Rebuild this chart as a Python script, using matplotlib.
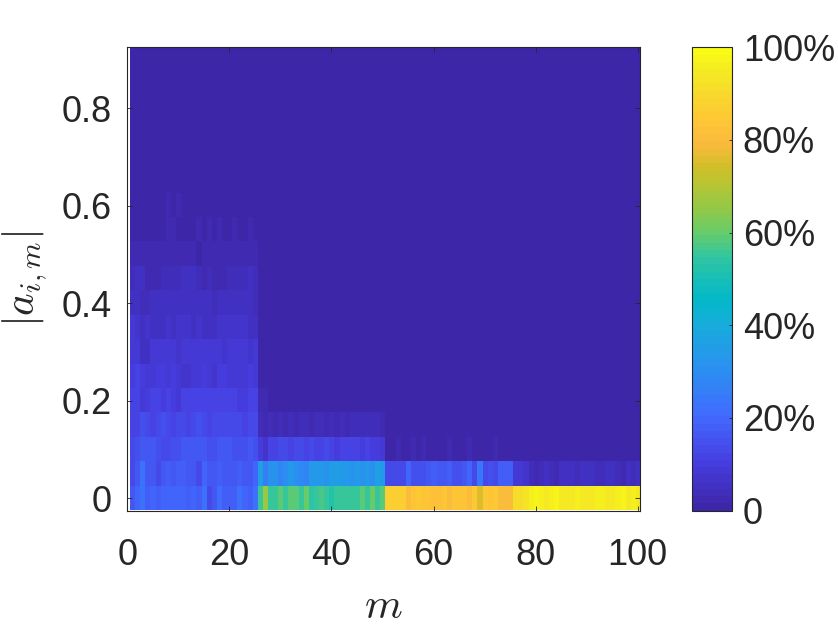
import numpy as np
import matplotlib
matplotlib.use("Agg")
import matplotlib.pyplot as plt
from matplotlib.colors import LinearSegmentedColormap, ListedColormap

# histogram of |a_{i,m}| per column m, in percent
m_values = np.arange(1, 101)
amp_bins = np.round(np.arange(19) * 0.05, 2)

row_000 = ([17, 19, 23, 18, 19, 18, 20, 19, 20, 20, 19, 18, 19, 18, 23, 13, 17, 21, 18, 18, 18, 22, 19, 18, 22]
           + [56, 67, 55, 56, 58, 55, 59, 58, 55, 60, 54, 56, 57, 55, 52, 56, 55, 55, 56, 55, 59, 55, 60, 55, 58]
           + [86, 87, 86, 86, 80, 84, 85, 84, 83, 82, 82, 83, 81, 84, 84, 84, 80, 85, 75, 85, 84, 85, 81, 81, 81]
           + [91, 92, 93, 96, 97, 96, 95, 96, 97, 95, 94, 95, 96, 95, 94, 95, 96, 96, 95, 94, 96, 97, 95, 96, 94])
row_005 = ([13, 16, 22, 16, 17, 14, 16, 18, 17, 18, 18, 17, 16, 13, 19, 17, 17, 18, 17, 17, 17, 18, 17, 17, 19]
           + [37, 26, 32, 32, 28, 31, 33, 30, 29, 28, 33, 33, 33, 32, 35, 35, 33, 33, 32, 34, 32, 33, 30, 36, 34]
           + [13, 13, 14, 14, 19, 15, 15, 15, 16, 18, 17, 16, 18, 15, 15, 16, 19, 14, 24, 14, 15, 14, 18, 18, 18]
           + [9, 8, 7, 4, 3, 4, 5, 4, 3, 5, 6, 5, 4, 5, 6, 5, 4, 4, 5, 6, 4, 3, 5, 4, 6])
row_010 = ([14, 15, 17, 16, 16, 15, 14, 14, 15, 15, 16, 16, 16, 16, 16, 15, 15, 17, 17, 17, 15, 15, 15, 16, 15]
           + [10, 7, 12, 12, 13, 14, 11, 13, 14, 12, 13, 12, 11, 14, 11, 10, 12, 11, 12, 11, 10, 12, 10, 10, 9]
           + [1, 1, 2, 1, 1, 2, 1, 2, 1, 1, 1, 1, 2, 1, 1, 1, 2, 1, 1, 1, 1, 2, 1, 1, 1]
           + [0] * 25)
row_015 = ([12, 12, 15, 14, 12, 13, 15, 14, 12, 13, 14, 12, 13, 15, 13, 12, 14, 14, 14, 14, 13, 13, 12, 13, 14]
           + [4, 2, 4, 3, 4, 3, 4, 3, 4, 4, 3, 4, 4, 3, 4, 3, 4, 3, 4, 4, 4, 4, 4, 4, 3]
           + [0] * 50)
row_020 = ([11, 11, 9, 10, 12, 11, 10, 11, 10, 9, 11, 11, 11, 11, 11, 11, 11, 11, 12, 12, 11, 10, 10, 11, 11]
           + [2, 2] + [0] * 73)
row_025 = [10, 11, 10, 9, 9, 10, 10, 9, 10, 9, 7, 7, 9, 9, 10, 9, 7, 10, 10, 9, 8, 9, 9, 10, 9] + [0] * 75
row_030 = [9, 8, 6, 6, 8, 9, 9, 8, 8, 7, 9, 8, 8, 8, 9, 8, 8, 8, 7, 9, 8, 9, 8, 7, 9] + [0] * 75
row_035 = [8, 7, 5, 7, 6, 6, 6, 7, 6, 7, 7, 7, 6, 7, 5, 5, 6, 7, 7, 7, 7, 7, 7, 6, 5] + [0] * 75
row_040 = [6, 6, 4, 4, 5, 6, 6, 5, 6, 6, 6, 6, 5, 6, 5, 6, 4, 6, 5, 6, 5, 5, 5, 5, 4] + [0] * 75
row_045 = [4, 5, 5, 3, 3, 3, 4, 4, 4, 4, 5, 5, 5, 4, 3, 4, 3, 3, 3, 4, 4, 4, 4, 5, 4] + [0] * 75
row_050 = [3, 3, 3, 2, 3, 2, 3, 3, 3, 3, 3, 3, 3, 1, 2, 3, 2, 3, 3, 2, 2, 2, 3, 2, 2] + [0] * 75
row_055 = [1, 0, 0, 0, 0, 0, 0, 2, 2, 0, 0, 0, 0, 2, 0, 2, 0, 2, 0, 0, 2, 0, 0, 2, 0] + [0] * 75
row_060 = [1, 0, 0, 0, 0, 0, 0, 2, 0, 2, 0, 0, 0, 0, 0, 0, 0, 0, 0, 0, 0, 0, 0, 0, 0] + [0] * 75
row_065 = [0] * 100
row_070 = [0] * 100
row_075 = [0] * 100
row_080 = [0] * 100
row_085 = [0] * 100
row_090 = [0] * 100

hist_pct = np.array([row_000, row_005, row_010, row_015, row_020, row_025, row_030,
                     row_035, row_040, row_045, row_050, row_055, row_060, row_065,
                     row_070, row_075, row_080, row_085, row_090], dtype=float)

x_ticks = [0, 20, 40, 60, 80, 100]
y_ticks = [0, 0.2, 0.4, 0.6, 0.8]
y_ticklabels = ['0', '0.2', '0.4', '0.6', '0.8']
cbar_ticks = [0, 20, 40, 60, 80, 100]
cbar_ticklabels = ['0', '20%', '40%', '60%', '80%', '100%']

# parula-like map, 64 levels like matlab's default
parula_pts = [
    (0.00, (0.2422, 0.1504, 0.6603)),
    (0.10, (0.2770, 0.2440, 0.8840)),
    (0.20, (0.2550, 0.4200, 0.9970)),
    (0.30, (0.1700, 0.5600, 0.9450)),
    (0.40, (0.0900, 0.6750, 0.8600)),
    (0.45, (0.0100, 0.7220, 0.7900)),
    (0.50, (0.0900, 0.7490, 0.7160)),
    (0.55, (0.1900, 0.7750, 0.6300)),
    (0.60, (0.4000, 0.8000, 0.4200)),
    (0.65, (0.5600, 0.7900, 0.2900)),
    (0.70, (0.7000, 0.7750, 0.2100)),
    (0.75, (0.8300, 0.7470, 0.1530)),
    (0.80, (0.9800, 0.7300, 0.2400)),
    (0.85, (0.9950, 0.7800, 0.2100)),
    (0.90, (0.9750, 0.8400, 0.1760)),
    (0.95, (0.9600, 0.9100, 0.1430)),
    (1.00, (0.9769, 0.9839, 0.0805)),
]
smooth = LinearSegmentedColormap.from_list('parula_s', parula_pts)
parula = ListedColormap(smooth(np.linspace(0, 1, 64)), name='parula')

txt = '#262626'
plt.rcParams['font.family'] = ['Liberation Sans', 'DejaVu Sans']
plt.rcParams['mathtext.fontset'] = 'cm'

W, H = 838, 628
fig = plt.figure(figsize=(W / 100, H / 100), dpi=100)
ax = fig.add_axes([127.3 / W, 1 - 510.5 / H, (640.3 - 127.3) / W, (510.5 - 47.3) / H])
cax = fig.add_axes([692.3 / W, 1 - 510.5 / H, (731.7 - 692.3) / W, (510.5 - 47.3) / H])

dm = m_values[1] - m_values[0]
da = amp_bins[1] - amp_bins[0]
im = ax.imshow(hist_pct, origin='lower', aspect='auto', cmap=parula, vmin=0, vmax=100,
               interpolation='nearest',
               extent=[m_values[0] - dm / 2, m_values[-1] + dm / 2,
                       amp_bins[0] - da / 2, amp_bins[-1] + da / 2])

ax.set_xticks(x_ticks)
ax.set_yticks(y_ticks)
ax.set_yticklabels(y_ticklabels)
ax.tick_params(direction='in', length=3.6, width=0.6, top=True, right=True,
               labelsize=26, colors=txt)
ax.tick_params(axis='x', pad=20)
ax.tick_params(axis='y', pad=11)
for s in ax.spines.values():
    s.set_color(txt)
    s.set_linewidth(0.8)

ax.set_xlabel(r'$m$', fontsize=31, color=txt)
ax.set_ylabel(r'$|a_{i,m}|$', fontsize=31, color=txt)
ax.xaxis.set_label_coords(0.5, -0.165)
ax.yaxis.set_label_coords(-0.152, 0.5)

cb = fig.colorbar(im, cax=cax, ticks=cbar_ticks)
cb.ax.set_yticklabels(cbar_ticklabels)
cb.ax.tick_params(direction='in', length=2.5, width=0.6, labelsize=26, colors=txt, pad=8)
cb.outline.set_edgecolor(txt)
cb.outline.set_linewidth(0.8)

fig.savefig('out.png', dpi=100)
